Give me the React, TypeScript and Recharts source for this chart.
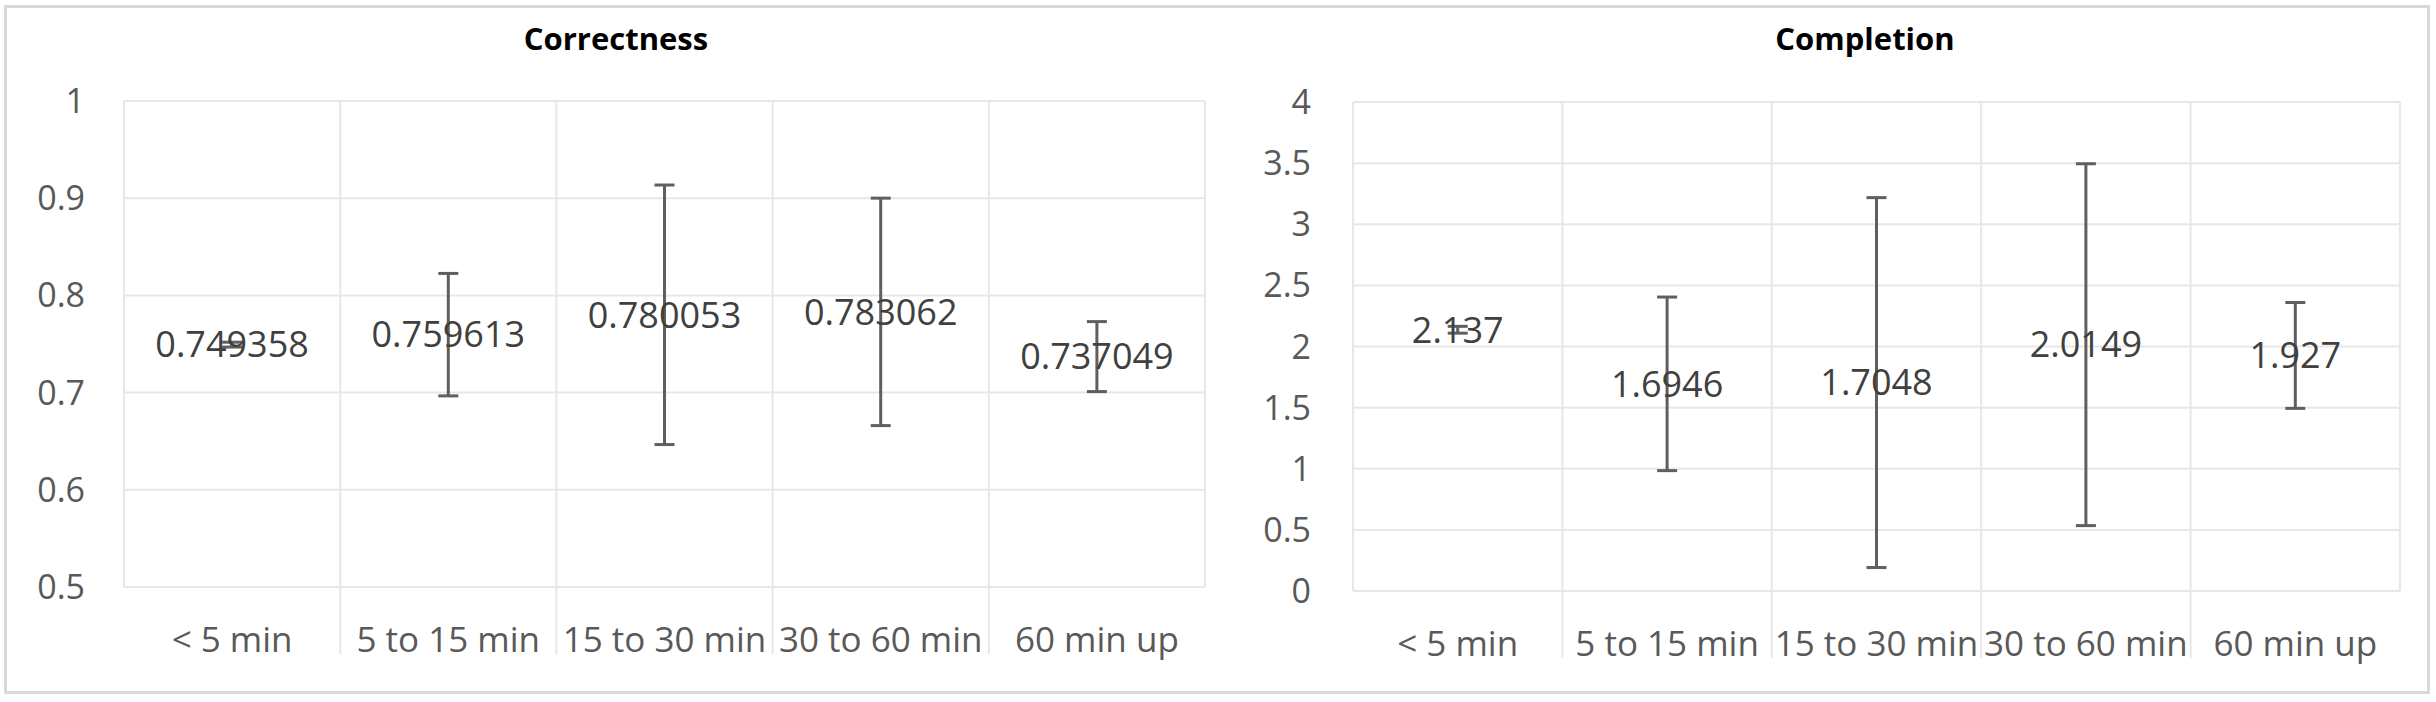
import React from 'react';
import { ComposedChart, Line, ErrorBar, LabelList, XAxis, YAxis, CartesianGrid } from 'recharts';

const categories = ['< 5 min', '5 to 15 min', '15 to 30 min', '30 to 60 min', '60 min up'];

const correctnessMeans = [0.749358, 0.759613, 0.780053, 0.783062, 0.737049];
const correctnessErrors = [0.0025, 0.063, 0.1335, 0.117, 0.036];
const correctnessTicks = [0.5, 0.6, 0.7, 0.8, 0.9, 1];

const completionMeans = [2.137, 1.6946, 1.7048, 2.0149, 1.927];
const completionErrors = [0.028, 0.71, 1.513, 1.48, 0.433];
const completionTicks = [0, 0.5, 1, 1.5, 2, 2.5, 3, 3.5, 4];

const FONT = '"Open Sans", Lato, sans-serif';
const GRID = '#e7e7e7';

// category label plus the separator that runs down through the label row
const CategoryTick = (props: any) => {
  const { x, y, payload, index, band, gap } = props;
  const top = y - gap;
  return (
    <g>
      {index > 0 && (
        <line x1={x - band / 2} x2={x - band / 2} y1={top} y2={top + 67} stroke={GRID} strokeWidth={2} />
      )}
      <text x={x} y={y} dy="0.71em" textAnchor="middle" fill="#595959" fontSize={35} fontFamily={FONT}>
        {payload.value}
      </text>
    </g>
  );
};

function Panel({ left, width, title, titleCenter, means, errors, ticks, margin, yWidth, yMargin }: any) {
  const data = categories.map((name, i) => ({ name, mean: means[i], err: errors[i] }));
  const height = 702;
  const band = (width - margin.right - yWidth) / categories.length;
  return (
    <>
      <div
        style={{
          position: 'absolute',
          left: titleCenter - 300,
          top: 18,
          width: 600,
          textAlign: 'center',
          fontFamily: FONT,
          fontWeight: 700,
          fontSize: 31,
          lineHeight: '40px',
          color: '#000',
        }}
      >
        {title}
      </div>
      <div style={{ position: 'absolute', left, top: 0 }}>
        <ComposedChart width={width} height={height} data={data} margin={margin}>
          <CartesianGrid
            stroke={GRID}
            strokeWidth={2}
            verticalCoordinatesGenerator={({ offset }: any) =>
              categories.map((_, i) => offset.left + (i * offset.width) / categories.length).concat(offset.left + offset.width)
            }
          />
          <XAxis
            dataKey="name"
            scale="band"
            axisLine={false}
            tickLine={false}
            height={60}
            tickMargin={34}
            interval={0}
            tick={<CategoryTick band={band} gap={40} />}
          />
          <YAxis
            type="number"
            domain={[ticks[0], ticks[ticks.length - 1]]}
            ticks={ticks}
            axisLine={false}
            tickLine={false}
            width={yWidth}
            tickMargin={yMargin}
            tick={{ fill: '#595959', fontSize: 34, fontFamily: FONT }}
          />
          <Line dataKey="mean" stroke="none" dot={false} activeDot={false} legendType="none" isAnimationActive={false}>
            <LabelList dataKey="mean" position="center" fill="#404040" fontSize={36} fontFamily={FONT} />
          </Line>
          <Line dataKey="mean" stroke="none" dot={false} activeDot={false} legendType="none" isAnimationActive={false}>
            <ErrorBar dataKey="err" direction="y" width={10} stroke="#5f5f5f" strokeWidth={3} isAnimationActive={false} />
          </Line>
        </ComposedChart>
      </div>
    </>
  );
}

export default function App() {
  return (
    <div style={{ position: 'absolute', left: 0, top: 0, width: 2436, height: 702, background: '#fff' }}>
      <div
        style={{
          position: 'absolute',
          left: 4,
          top: 5,
          width: 2426,
          height: 689,
          border: '3px solid #d9d9d9',
          boxSizing: 'border-box',
        }}
      />
      <Panel
        left={0}
        width={1216}
        title="Correctness"
        titleCenter={616}
        means={correctnessMeans}
        errors={correctnessErrors}
        ticks={correctnessTicks}
        margin={{ top: 101, right: 11, bottom: 55, left: 0 }}
        yWidth={124}
        yMargin={33}
      />
      <Panel
        left={1216}
        width={1220}
        title="Completion"
        titleCenter={1865}
        means={completionMeans}
        errors={completionErrors}
        ticks={completionTicks}
        margin={{ top: 102, right: 36, bottom: 51, left: 0 }}
        yWidth={137}
        yMargin={36}
      />
    </div>
  );
}
